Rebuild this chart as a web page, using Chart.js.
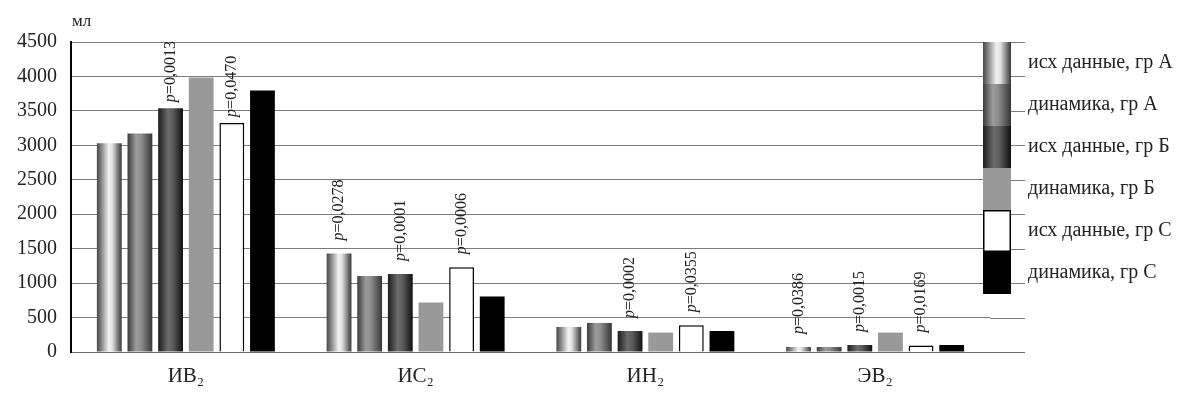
<!DOCTYPE html>
<html>
<head>
<meta charset="utf-8">
<script src="https://cdn.jsdelivr.net/npm/chart.js@4"></script>
<style>
	html, body { margin: 0; padding: 0; background: #fff; }
	#wrap { width: 1200px; height: 399px; }
</style>
</head>
<body>
<div id="wrap"><canvas id="chart" width="1200" height="399"></canvas></div>
<script>
// categories and series
const categories = ['ИВ₂', 'ИС₂', 'ИН₂', 'ЭВ₂'];
const seriesNames = [
	'исх данные, гр А',
	'динамика, гр А',
	'исх данные, гр Б',
	'динамика, гр Б',
	'исх данные, гр С',
	'динамика, гр С'
];
const ishA = [3030, 1430, 364, 73];
const dinA = [3170, 1105, 422, 73];
const ishB = [3540, 1134, 305, 102];
const dinB = [3985, 718, 282, 282];
const ishC = [3326, 1232, 388, 93];
const dinC = [3796, 806, 305, 102];

// p-values written above some bars (null = none)
const pIshA = [null, '0,0278', null, '0,0386'];
const pIshB = ['0,0013', '0,0001', '0,0002', '0,0015'];
const pIshC = ['0,0470', '0,0006', '0,0355', '0,0169'];

const yTicks = [0, 500, 1000, 1500, 2000, 2500, 3000, 3500, 4000, 4500];

const SERIF = '"Liberation Serif", "DejaVu Serif", serif';

// horizontal "cylinder" shading for each series
const shades = [
	[[0, '#474747'], [0.2, '#8c8c8c'], [0.48, '#f2f2f2'], [0.62, '#e2e2e2'], [0.85, '#7a7a7a'], [1, '#383838']],
	[[0, '#3a3a3a'], [0.35, '#9c9c9c'], [0.55, '#8c8c8c'], [1, '#363636']],
	[[0, '#1c1c1c'], [0.4, '#6c6c6c'], [0.6, '#5a5a5a'], [1, '#101010']],
	null, null, null
];
const flat = ['#aaaaaa', '#777777', '#444444', '#999999', '#ffffff', '#000000'];

function makeShade(ctx, i, x0, x1) {
	if (!shades[i]) return flat[i];
	const g = ctx.createLinearGradient(x0, 0, x1, 0);
	shades[i].forEach(s => g.addColorStop(s[0], s[1]));
	return g;
}

function barFill(i) {
	return (c) => {
		if (c.type !== 'data') return flat[i];
		const el = c.chart.getDatasetMeta(c.datasetIndex).data[c.dataIndex];
		if (!el || !isFinite(el.x) || !el.width) return flat[i];
		return makeShade(c.chart.ctx, i, el.x - el.width / 2, el.x + el.width / 2);
	};
}

const seriesData = [ishA, dinA, ishB, dinB, ishC, dinC];
const seriesP = [pIshA, null, pIshB, null, pIshC, null];

const pLabelPlugin = {
	id: 'pLabels',
	afterDatasetsDraw(chart) {
		const ctx = chart.ctx;
		chart.data.datasets.forEach((ds, i) => {
			const labels = seriesP[i];
			if (!labels) return;
			chart.getDatasetMeta(i).data.forEach((el, j) => {
				if (!labels[j]) return;
				const gap = j === 0 ? 6 : 13;
				ctx.save();
				ctx.translate(el.x, el.y - gap);
				ctx.rotate(-Math.PI / 2);
				ctx.fillStyle = '#222';
				ctx.textBaseline = 'middle';
				ctx.textAlign = 'left';
				ctx.font = 'italic 16px ' + SERIF;
				ctx.fillText('p', 0, 0);
				const w = ctx.measureText('p').width;
				ctx.font = '16px ' + SERIF;
				ctx.fillText('=' + labels[j], w, 0);
				ctx.restore();
			});
		});
	}
};

const decorPlugin = {
	id: 'decor',
	beforeDatasetsDraw(chart) {
		// gridlines and the base line run on a little past the plot, under the legend
		const ctx = chart.ctx;
		const y = chart.scales.y;
		const a = chart.chartArea;
		ctx.save();
		ctx.lineWidth = 1;
		yTicks.forEach(t => {
			ctx.strokeStyle = t === 0 ? '#6a6a6a' : '#7c7c7c';
			const py = Math.round(y.getPixelForValue(t)) + 0.5;
			ctx.beginPath();
			ctx.moveTo(a.right, py);
			ctx.lineTo(a.right + 35, py);
			ctx.stroke();
		});
		ctx.restore();
	},
	afterDraw(chart) {
		const ctx = chart.ctx;
		ctx.save();
		// unit
		ctx.fillStyle = '#222';
		ctx.font = '17px ' + SERIF;
		ctx.textBaseline = 'middle';
		ctx.textAlign = 'left';
		ctx.fillText('мл', 72, 22);

		// legend: stacked swatches
		const lx = 983, lw = 28, top = 42, h = 42;
		chart.data.datasets.forEach((ds, i) => {
			const y0 = top + i * h;
			ctx.fillStyle = makeShade(ctx, i, lx, lx + lw);
			ctx.fillRect(lx, y0, lw, h);
			if (i === 4) {
				ctx.strokeStyle = '#000';
				ctx.lineWidth = 1.5;
				ctx.strokeRect(lx + 0.75, y0 + 0.75, lw - 1.5, h - 1.5);
			}
			ctx.fillStyle = '#222';
			ctx.font = '20px ' + SERIF;
			ctx.textAlign = 'left';
			ctx.textBaseline = 'middle';
			ctx.fillText(ds.label, 1028, y0 + h / 2);
		});
		ctx.restore();
	}
};

new Chart(document.getElementById('chart'), {
	type: 'bar',
	data: {
		labels: categories,
		datasets: seriesData.map((d, i) => ({
			label: seriesNames[i],
			data: d,
			backgroundColor: barFill(i),
			borderColor: '#000',
			borderWidth: i === 4 ? 1.5 : 0,
			categoryPercentage: 0.8,
			barPercentage: 0.81
		}))
	},
	options: {
		responsive: false,
		animation: false,
		layout: {
			padding: { top: 42, right: 210, left: 0, bottom: 0 }
		},
		plugins: {
			legend: { display: false },
			tooltip: { enabled: false }
		},
		scales: {
			x: {
				grid: { display: false, drawTicks: false },
				border: { color: '#6a6a6a', width: 1 },
				ticks: {
					color: '#222',
					padding: 12,
					font: { family: SERIF, size: 21 }
				},
				afterFit(s) { s.height = 47; }
			},
			y: {
				min: 0,
				max: 4500,
				afterBuildTicks(s) { s.ticks = yTicks.map(v => ({ value: v })); },
				grid: { color: '#7c7c7c', lineWidth: 1, drawTicks: false },
				border: { color: '#000', width: 2 },
				ticks: {
					color: '#222',
					padding: 14,
					font: { family: SERIF, size: 20 },
					callback: (v) => String(v)
				},
				afterFit(s) { s.width = 71; }
			}
		}
	},
	plugins: [decorPlugin, pLabelPlugin]
}).update('none');
</script>
</body>
</html>
